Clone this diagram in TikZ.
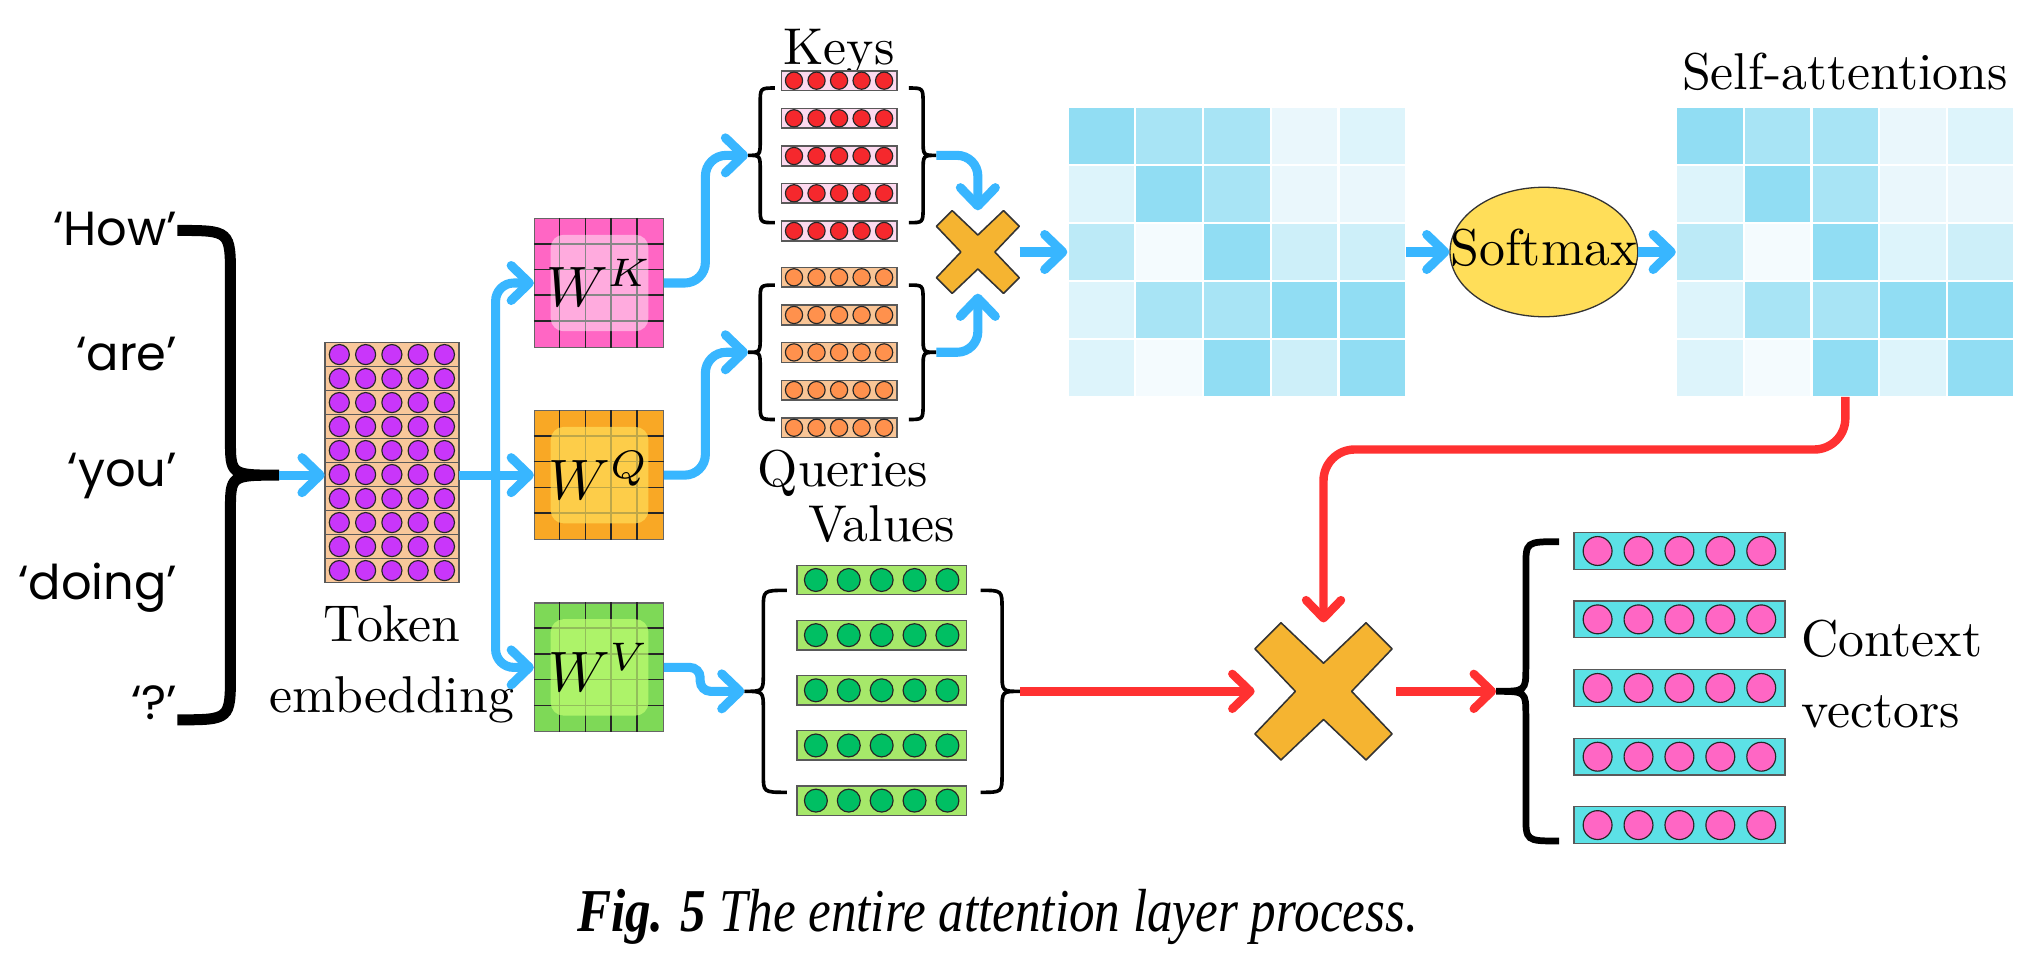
\documentclass[tikz,border=0pt]{standalone}
\usepackage{fontspec}
\newfontfamily\popfont{Poppins}
\newfontfamily\capfont{Liberation Serif}
\newfontfamily\lmten{lmroman10-regular}[Extension=.otf]
\usetikzlibrary{arrows.meta,shapes.geometric,calc}
\definecolor{ablue}{HTML}{38B6FF}
\definecolor{ared}{HTML}{FF3131}
\definecolor{wkfill}{HTML}{FF66C4}
\definecolor{wqfill}{HTML}{F9A825}
\definecolor{wqin}{HTML}{FFDE59}
\definecolor{wvfill}{HTML}{7ED957}
\definecolor{wvin}{HTML}{C1FF72}
\definecolor{embfill}{HTML}{F8C79A}
\definecolor{embdot}{HTML}{C936FA}
\definecolor{keyfill}{HTML}{FDD9EF}
\definecolor{keydot}{HTML}{F5282D}
\definecolor{qfill}{HTML}{F9C596}
\definecolor{qdot}{HTML}{FF914D}
\definecolor{vfill}{HTML}{A6E86A}
\definecolor{vdot}{HTML}{00BF63}
\definecolor{cfill}{HTML}{5CE1E6}
\definecolor{cdot}{HTML}{FF66C4}
\definecolor{xfill}{HTML}{F5B431}
\definecolor{smfill}{HTML}{FFDE59}
\definecolor{matA}{HTML}{91DDF3}
\definecolor{matB}{HTML}{A8E4F5}
\definecolor{matC}{HTML}{BCEAF7}
\definecolor{matD}{HTML}{CDEFF9}
\definecolor{matE}{HTML}{DDF4FB}
\definecolor{matF}{HTML}{EAF7FC}
\definecolor{matG}{HTML}{F4FBFE}
% vector row: name, cx, cy, w, h, fill, dotfill, dot diameter, dot spacing
\newcommand{\vrow}[9]{%
  \node[rowbox, fill=#6, minimum width=#4pt, minimum height=#5pt] (#1) at (#2,#3) {};
  \foreach \kk in {-2,...,2} \draw[dot, fill=#7] ({#2+\kk*#9},#3) circle[radius={#8/2}];
}
% brace: style, x_end, x_vert, x_tip, y_top, y_bot, r_end, r_mid
\newcommand{\cbrace}[8][]{%
  \pgfmathsetmacro\bym{(#5+#6)/2}
  \draw[#1] (#2,#5) .. controls (#3,#5) .. (#3,#5+#7) -- (#3,\bym-#8)
    .. controls (#3,\bym) .. (#4,\bym) .. controls (#3,\bym) .. (#3,\bym+#8)
    -- (#3,#6-#7) .. controls (#3,#6) .. (#2,#6);
}
% multiply mark: name, cx, cy, half size
\newcommand{\xmark}[4]{%
  \pgfmathsetmacro\xa{#4}\pgfmathsetmacro\xw{0.38*#4}\pgfmathsetmacro\xc{0.41*#4}\pgfmathsetmacro\xd{2*#4}
  \node[inner sep=0, minimum size=\xd pt] (#1) at (#2,#3) {};
  \draw[xstyle, shift={(#1.center)}] (-\xa,-\xa+\xw) -- (-\xa+\xw,-\xa) -- (0,-\xc) -- (\xa-\xw,-\xa)
    -- (\xa,-\xa+\xw) -- (\xc,0) -- (\xa,\xa-\xw) -- (\xa-\xw,\xa) -- (0,\xc) -- (-\xa+\xw,\xa)
    -- (-\xa,\xa-\xw) -- (-\xc,0) -- cycle;
}
% weight box: name, cx, cy, fill, inner fill, inner opacity, superscript
\newcommand{\wbox}[7]{%
  \node[draw=black!60, fill=#4, minimum size=99.5pt, inner sep=0, line width=1pt] (#1) at (#2,#3) {};
  \foreach \kk in {1,...,4} {
    \draw[gridl] ($(#1.north west)+(\kk*19.9,0)$) -- ($(#1.south west)+(\kk*19.9,0)$);
    \draw[gridl] ($(#1.north west)+(0,\kk*19.9)$) -- ($(#1.north east)+(0,\kk*19.9)$);
  }
  \fill[#5, opacity=#6, rounded corners=10pt] ($(#1.north west)+(13,13)$) rectangle ($(#1.south east)+(-12,-13)$);
  \node[inner sep=0] (#1t) at (#1) {\scalebox{4.4}{$W^{#7}$}};
}
% heat matrix: name, x0, y0, colour letters
\newcommand{\hmat}[4]{%
  \foreach \cc [count=\ii from 0] in {#4} {
    \pgfmathtruncatemacro\mrow{int(\ii/5)}
    \pgfmathtruncatemacro\mcol{mod(\ii,5)}
    \fill[fill=mat\cc, draw=white, line width=1.8pt] ({#2+\mcol*52.3},{#3+\mrow*44.7}) rectangle ++(52.3,44.7);
  }
  \node[inner sep=0, minimum width=261.5pt, minimum height=223.5pt] (#1) at ({#2+130.75},{#3+111.75}) {};
}
\begin{document}
\begin{tikzpicture}[x=1pt, y=-1pt,
  lbl/.style={font=\lmten\fontsize{40}{42}\selectfont, inner sep=0},
  word/.style={font=\popfont\fontsize{37}{40}\selectfont, inner sep=0, anchor=base east},
  bline/.style={draw=ablue, line width=7pt},
  barrow/.style={bline, -{Straight Barb[length=14pt,width=27pt,round]}},
  rline/.style={draw=ared, line width=6.5pt},
  rarrow/.style={rline, -{Straight Barb[length=14pt,width=27pt,round]}},
  rowbox/.style={draw=black!65, line width=1.1pt, inner sep=0},
  dot/.style={draw=black!85, line width=0.9pt},
  gridl/.style={draw=black!85, line width=1.3pt},
  xstyle/.style={fill=xfill, draw=black!80, line width=1.2pt, line join=round},
  thinbrace/.style={draw=black, line width=2.8pt},
]
\useasboundingbox[fill=white] (0,0) rectangle (1568,741.5);

% input words
\node[word] (w1) at (137,190) {‘How’};
\node[word] (w2) at (137,286) {‘are’};
\node[word] (w3) at (137,375.4) {‘you’};
\node[word] (w4) at (137,463.2) {‘doing’};
\node[word] (w5) at (137,556) {‘?’};
\cbrace[draw=black, line width=8.5pt]{137}{178}{215.5}{178}{556}{36}{28}
\coordinate (bt) at (215.5,367);

% token embedding
\foreach \k in {0,...,9} {
  \pgfmathsetmacro\yy{264.6+18.54*\k+9.27}
  \vrow{e\k}{302.7}{\yy}{103.5}{18.54}{embfill}{embdot}{15.5}{20.3}
}
\node[inner sep=0, minimum width=103.5pt, minimum height=185.4pt] (emb) at (302.7,357.3) {};
\node[lbl, anchor=base] (tok) at (303,495.7) {Token};
\node[lbl, anchor=base] (embl) at (302.5,550.4) {embedding};

% weight matrices
\wbox{wk}{462.6}{218.6}{wkfill}{white}{0.45}{K}
\wbox{wq}{462.6}{367}{wqfill}{wqin}{0.7}{Q}
\wbox{wv}{462.6}{515.5}{wvfill}{wvin}{0.7}{V}

% keys and queries
\node[lbl, anchor=base] (keysl) at (648,50.2) {Keys};
\foreach \yy [count=\n] in {62.3,91.4,120.5,149.3,178.4} {\vrow{k\n}{648.1}{\yy}{89.2}{15.2}{keyfill}{keydot}{13.3}{17.4}}
\foreach \yy [count=\n] in {214.2,243.3,272.2,301.3,330.4} {\vrow{q\n}{648.1}{\yy}{89.2}{15.2}{qfill}{qdot}{13.3}{17.4}}
\node[lbl, anchor=base] (queriesl) at (651,376) {Queries};
\cbrace[thinbrace]{598.5}{587.2}{577.8}{68}{172}{12}{12}
\cbrace[thinbrace]{702}{713}{723.2}{68}{172}{12}{12}
\cbrace[thinbrace]{598.5}{587.2}{577.8}{220.2}{324}{12}{12}
\cbrace[thinbrace]{702}{713}{723.2}{220.2}{324}{12}{12}
\coordinate (kb) at (577.8,120);
\coordinate (kbr) at (723.2,120);
\coordinate (qb) at (577.8,272.1);
\coordinate (qbr) at (723.2,272.1);

% values
\node[lbl, anchor=base] (valuesl) at (681,418.4) {Values};
\foreach \yy [count=\n] in {448,490.6,533.2,575.8,618.4} {\vrow{v\n}{681}{\yy}{130.7}{22.7}{vfill}{vdot}{17.7}{25.4}}
\cbrace[thinbrace]{607.7}{589.6}{575}{456}{612}{14}{14}
\cbrace[thinbrace]{757.5}{774}{788}{456}{612}{14}{14}
\coordinate (vb) at (575,534);
\coordinate (vbr) at (788,534);

% multiply marks
\xmark{xs}{755.3}{194.65}{32}
\xmark{xb}{1022.3}{534}{53}

% score matrices and softmax
\hmat{lm}{824.6}{82.9}{A,B,B,F,E,E,A,B,F,F,C,G,A,D,D,E,B,B,A,A,E,G,A,D,A}
\hmat{rm}{1294.6}{82.9}{A,B,B,F,E,E,A,B,F,F,C,G,A,E,D,E,B,B,A,A,E,G,A,E,A}
\node[ellipse, draw=black!80, line width=1pt, fill=smfill, minimum width=145pt, minimum height=100pt, inner sep=0] (sm) at (1192.5,194.65) {};
\node[lbl, anchor=base] (smt) at (1192.5,204.7) {Softmax};
\node[lbl, anchor=base] (sal) at (1425,69.5) {Self-attentions};

% context vectors
\foreach \yy [count=\n] in {425.6,478.4,531.4,584.5,637.3} {\vrow{c\n}{1297.2}{\yy}{162.8}{28.3}{cfill}{cdot}{22.3}{31.6}}
\cbrace[draw=black, line width=5.2pt]{1204.3}{1178.6}{1155.6}{418.4}{649.6}{20}{19}
\coordinate (cb) at (1155.6,534);
\node[lbl, anchor=base west] (ctx1) at (1391,507.2) {Context};
\node[lbl, anchor=base west] (ctx2) at (1391,561.8) {vectors};

% blue connectors
\coordinate (br) at (382.8,367);
\draw[barrow] (bt) -- (bt -| emb.west);
\draw[barrow] (emb.east |- wq.west) -- (wq.west);
\draw[barrow, rounded corners=14pt] (br) |- (wk.west);
\draw[barrow, rounded corners=14pt] (br) |- (wv.west);
\draw[barrow, rounded corners=16pt] (wk.east) -- ++(32,0) |- (kb);
\draw[barrow, rounded corners=16pt] (wq.east) -- ++(32,0) |- (qb);
\draw[barrow, rounded corners=8pt] (wv.east) -- ++(28,0) |- (vb);
\draw[barrow, rounded corners=16pt] (kbr) -| (xs.north);
\draw[barrow, rounded corners=16pt] (qbr) -| (xs.south);
\draw[barrow] (xs.east) -- (lm.west);
\draw[barrow] (lm.east) -- (sm.west);
\draw[barrow] (sm.east) -- (rm.west);

% red connectors
\draw[rarrow, rounded corners=24pt] (rm.south) -- ++(0,40.6) -| (xb.north);
\draw[rarrow] (vbr) -- (xb.west);
\draw[rarrow, shorten <=3pt] (xb.east) -- (cb);

% caption
\node[anchor=base, inner sep=0] (cap) at (770.5,719.7) {\capfont\fontsize{47}{50}\selectfont\scalebox{0.84}[1]{\textbf{\textit{Fig. 5}} \textit{The entire attention layer process.}}};
\end{tikzpicture}
\end{document}
